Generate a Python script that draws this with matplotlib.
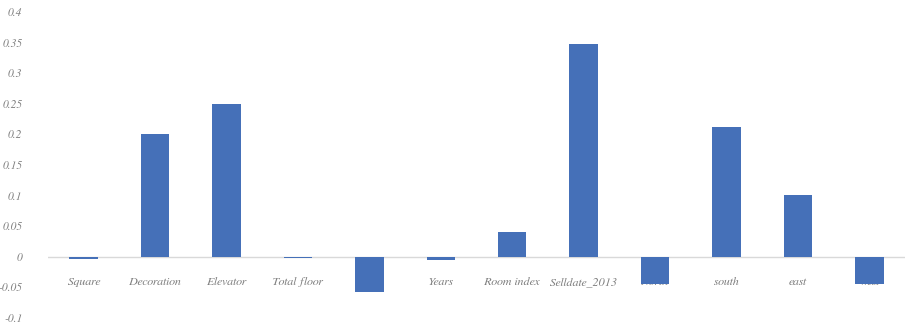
import matplotlib.pyplot as plt
import matplotlib.transforms as mtransforms

# --- DATA ---
features = ["Square", "Decoration", "Elevator", "Total floor", "Floor", "Years",
            "Room index", "Selldate_2013", "North", "south", "east", "west"]
coefs = [-0.003, 0.2, 0.25, -0.002, -0.058, -0.006,
         0.041, 0.348, -0.045, 0.212, 0.101, -0.044]
ytick_vals = [-0.1, -0.05, 0, 0.05, 0.1, 0.15, 0.2, 0.25, 0.3, 0.35, 0.4]
ytick_labels = ["-0.1", "-0.05", "0", "0.05", "0.1", "0.15", "0.2",
                "0.25", "0.3", "0.35", "0.4"]

BAR_COLOR = "#4570B8"
TEXT_COLOR = "#7f7f7f"
FONT = ["FreeSerif", "Liberation Serif"]
FSIZE = 8.7

fig = plt.figure(figsize=(9.07, 3.27), dpi=100)
ax = fig.add_axes([48 / 907, 9 / 327, 857 / 907, 306 / 327])

x = list(range(len(features)))
ax.bar(x, coefs, width=0.4, color=BAR_COLOR, zorder=2)

# zero line
ax.axhline(0, color="#d9d9d9", linewidth=1.0, zorder=1)

ax.set_xlim(-0.5, len(features) - 0.5)
ax.set_ylim(-0.1, 0.4)

for s in ax.spines.values():
    s.set_visible(False)
ax.set_xticks([])
ax.set_yticks(ytick_vals)
ax.set_yticklabels(ytick_labels, family=FONT, style="italic",
                   fontsize=8.3, color=TEXT_COLOR)
ax.tick_params(axis="y", length=0, pad=18.5)

# category labels sit just under the zero line, behind the bars
trans = mtransforms.offset_copy(ax.transData, fig=fig, x=0, y=-25, units="dots")
for xi, name in zip(x, features):
    ax.text(xi, 0, name, transform=trans, ha="center", va="center",
            family=FONT, style="italic", fontsize=FSIZE,
            color=TEXT_COLOR, zorder=0.5, clip_on=False)

fig.savefig("out.png", dpi=100)
